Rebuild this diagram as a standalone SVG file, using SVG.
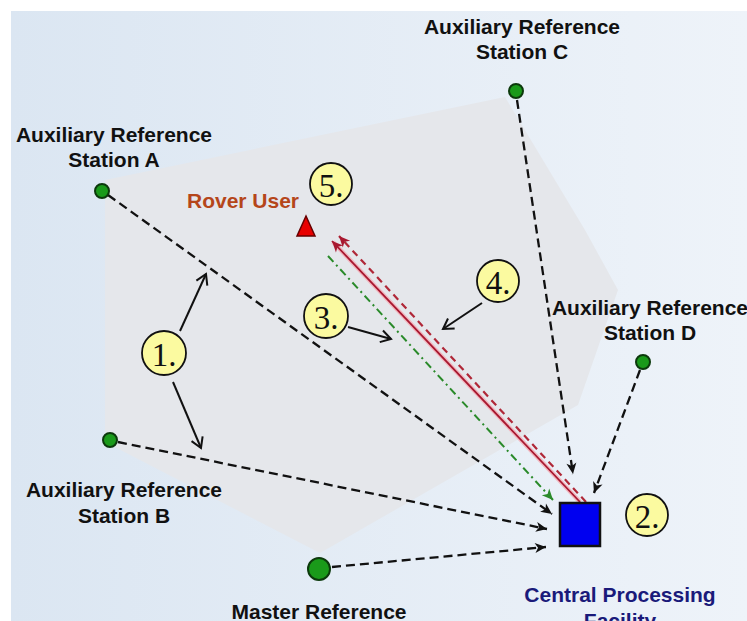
<svg xmlns="http://www.w3.org/2000/svg" width="747" height="621" viewBox="0 0 747 621">
<style>
.lbl{font-family:"Liberation Sans",Arial,sans-serif;font-weight:bold;font-size:21px;text-anchor:middle;fill:#111}
.num{font-family:"Liberation Serif","Times New Roman",serif;font-size:33px;text-anchor:middle;fill:#111}
.sta{fill:#1a9a1a;stroke:#0c3a0c;stroke-width:2}
.callout{fill:#fbfaa0;stroke:#111;stroke-width:1.8}
.dash{fill:none;stroke:#111;stroke-width:2.3;stroke-dasharray:9 5;marker-end:url(#blk)}
.ptr{fill:none;stroke:#111;stroke-width:2;marker-end:url(#open)}
</style>
<defs>
<linearGradient id="bg" x1="0" y1="0" x2="1" y2="0">
<stop offset="0" stop-color="#dbe6f2"/>
<stop offset="1" stop-color="#eef3f9"/>
</linearGradient>
<marker id="blk" markerUnits="userSpaceOnUse" markerWidth="12" markerHeight="10" refX="11" refY="5" orient="auto" overflow="visible">
<path d="M0,0 L11,5 L0,10 L3,5 z" fill="#111"/>
</marker>
<marker id="open" markerUnits="userSpaceOnUse" markerWidth="12" markerHeight="12" refX="11" refY="6" orient="auto" overflow="visible">
<path d="M1,0 L11,6 L1,12" fill="none" stroke="#111" stroke-width="2"/>
</marker>
<marker id="red" markerUnits="userSpaceOnUse" markerWidth="12" markerHeight="10" refX="11" refY="5" orient="auto" overflow="visible">
<path d="M0,0 L11,5 L0,10 L3,5 z" fill="#a81830"/>
</marker>
<marker id="grn" markerUnits="userSpaceOnUse" markerWidth="12" markerHeight="10" refX="11" refY="5" orient="auto" overflow="visible">
<path d="M0,0 L11,5 L0,10 L3,5 z" fill="#2a8a2a"/>
</marker>
</defs>
<rect x="0" y="0" width="747" height="621" fill="#ffffff"/>
<rect x="11" y="11" width="736" height="610" fill="url(#bg)"/>
<polygon id="coverage" points="105,180 505,97 585,230 618,290 578,405 320,553 105,442" fill="#e5e7eb"/>

<g id="connectors">
<line class="dash" x1="108" y1="195" x2="552" y2="514"/>
<line class="dash" x1="118" y1="442" x2="547" y2="529"/>
<line class="dash" x1="332" y1="567" x2="546" y2="547"/>
<line class="dash" x1="517" y1="100" x2="573" y2="474"/>
<line class="dash" x1="640" y1="370" x2="594" y2="493"/>
<line x1="328" y1="256" x2="553" y2="500" fill="none" stroke="#2a8a2a" stroke-width="2" stroke-dasharray="8 4 2 4" marker-end="url(#grn)"/>
<line x1="580" y1="502" x2="333" y2="242" fill="none" stroke="#f2b8c0" stroke-width="4.5"/>
<line x1="580" y1="502" x2="332" y2="241" fill="none" stroke="#a81830" stroke-width="1.8" marker-end="url(#red)"/>
<line x1="586" y1="502" x2="339" y2="236" fill="none" stroke="#b02838" stroke-width="2.2" stroke-dasharray="7 5" marker-end="url(#red)"/>
<line class="ptr" x1="180" y1="331" x2="206" y2="274"/>
<line class="ptr" x1="173" y1="382" x2="201" y2="448"/>
<line class="ptr" x1="348" y1="327" x2="391" y2="339"/>
<line class="ptr" x1="482" y1="303" x2="443" y2="329"/>
</g>

<g id="stationA">
<circle class="sta" cx="102" cy="191" r="7"/>
<text class="lbl" x="114" y="142">Auxiliary Reference</text>
<text class="lbl" x="114" y="167">Station A</text>
</g>
<g id="stationB">
<circle class="sta" cx="110" cy="440" r="7"/>
<text class="lbl" x="124" y="497">Auxiliary Reference</text>
<text class="lbl" x="124" y="523">Station B</text>
</g>
<g id="stationC">
<circle class="sta" cx="516" cy="91" r="7"/>
<text class="lbl" x="522" y="34">Auxiliary Reference</text>
<text class="lbl" x="522" y="59">Station C</text>
</g>
<g id="stationD">
<circle class="sta" cx="643" cy="362" r="7"/>
<text class="lbl" x="650" y="315">Auxiliary Reference</text>
<text class="lbl" x="650" y="340">Station D</text>
</g>
<g id="master">
<circle class="sta" cx="319" cy="569" r="11"/>
<text class="lbl" x="319" y="619">Master Reference</text>
</g>
<g id="rover">
<polygon points="306,216 297,236 315,236" fill="#e80000" stroke="#600" stroke-width="1.5"/>
<text class="lbl" x="243" y="208" style="fill:#b5461a">Rover User</text>
</g>
<g id="cpf">
<rect x="560" y="503" width="40" height="43" fill="#0000f0" stroke="#111" stroke-width="2.5"/>
<text class="lbl" x="620" y="602" style="fill:#1a1a7a">Central Processing</text>
<text class="lbl" x="620" y="628" style="fill:#1a1a7a">Facility</text>
</g>

<g id="callout1"><circle class="callout" cx="164" cy="353" r="22"/><text class="num" x="164" y="366">1.</text></g>
<g id="callout2"><circle class="callout" cx="647" cy="515" r="21"/><text class="num" x="647" y="528">2.</text></g>
<g id="callout3"><circle class="callout" cx="326" cy="316" r="22"/><text class="num" x="326" y="329">3.</text></g>
<g id="callout4"><circle class="callout" cx="498" cy="281" r="21"/><text class="num" x="498" y="294">4.</text></g>
<g id="callout5"><circle class="callout" cx="331" cy="184" r="21"/><text class="num" x="331" y="197">5.</text></g>
</svg>
